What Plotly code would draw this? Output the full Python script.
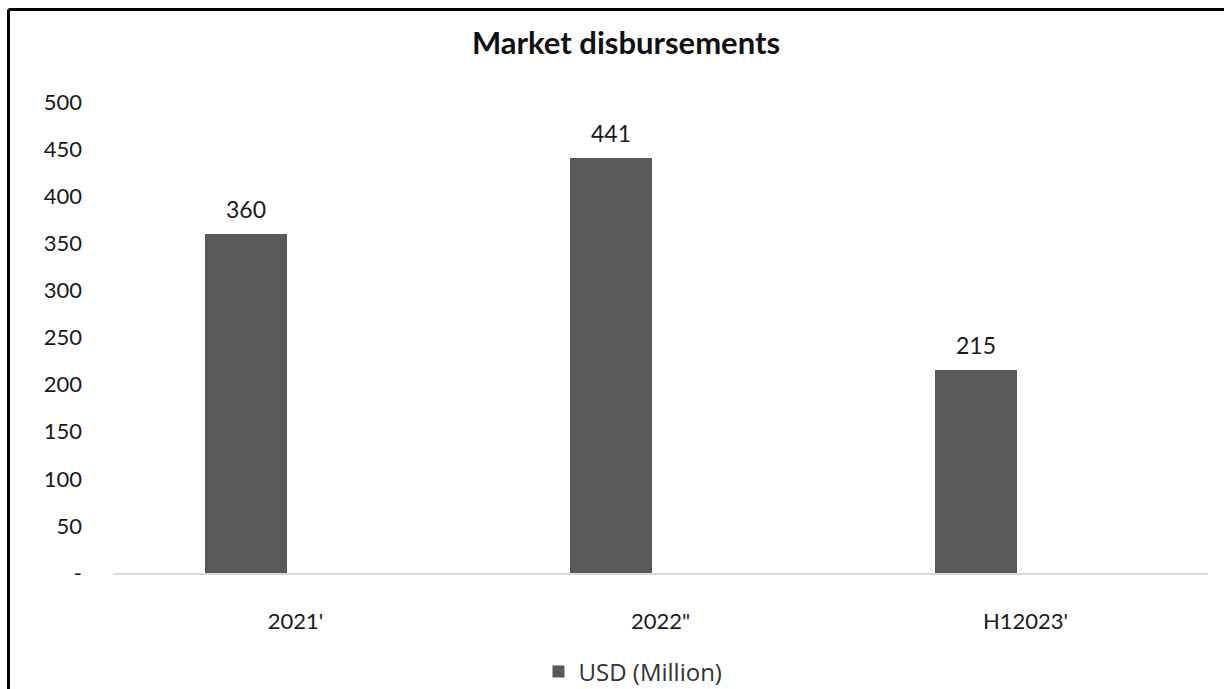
import plotly.graph_objects as go

categories = ["2021'", "2022\"", "H12023'"]
values = [360, 441, 215]
series_name = "USD (Million)"
y_tick_vals = [0, 50, 100, 150, 200, 250, 300, 350, 400, 450, 500]
y_tick_text = ["-", "50", "100", "150", "200", "250", "300", "350", "400", "450", "500"]
title_text = "Market disbursements"

W, H = 1224, 689
ML, MR, MT, MB = 113, 16, 102, 116
plot_w = W - ML - MR
plot_h = H - MT - MB

bar_width = 0.225
bar_offset = -0.248
bar_color = "#595959"

fig = go.Figure()
fig.add_trace(go.Bar(
    x=categories, y=values, name=series_name,
    marker=dict(color=bar_color, line=dict(width=0)),
    width=bar_width, offset=bar_offset,
    showlegend=True,
))

# data labels above each bar (centered on the offset bar)
center_shift = bar_offset + bar_width / 2
for i, v in enumerate(values):
    fig.add_annotation(
        x=i + center_shift, y=v, xref="x", yref="y",
        text=str(v), showarrow=False, yanchor="bottom", yshift=9,
        font=dict(family="Lato", size=23, color="#1a1a1a"),
    )

# outer frame (left and top edges visible)
fx = (8.5 - ML) / plot_w
fy = (H - MB - 9.5) / plot_h
fig.add_shape(type="line", xref="paper", yref="paper", x0=fx, x1=fx, y0=fy, y1=-(MB + 5) / plot_h,
              line=dict(color="black", width=3))
fig.add_shape(type="line", xref="paper", yref="paper", x0=fx, x1=(W - ML + 5) / plot_w, y0=fy, y1=fy,
              line=dict(color="black", width=3))

fig.update_layout(
    width=W, height=H,
    margin=dict(l=ML, r=MR, t=MT, b=MB, autoexpand=False),
    paper_bgcolor="white", plot_bgcolor="white",
    title=dict(text="<b>" + title_text + "</b>", x=626 / W, xref="container", xanchor="center",
               y=1 - 43 / H, yref="container", yanchor="middle",
               font=dict(family="Lato", size=31, color="#111111")),
    xaxis=dict(type="category", range=[-0.5, 2.5], showline=True, linecolor="#d9d9d9", linewidth=2,
               showgrid=False, zeroline=False, ticks="", ticklabelstandoff=28,
               tickfont=dict(family="Lato", size=22, color="#1a1a1a")),
    yaxis=dict(range=[0, 500], showgrid=False, zeroline=False, showline=False,
               tickvals=y_tick_vals, ticktext=y_tick_text, ticks="", ticklabelstandoff=30,
               tickfont=dict(family="Lato", size=22, color="#1a1a1a")),
    legend=dict(orientation="h", x=(633 - ML) / plot_w, xanchor="center",
                y=(H - MB - 672) / plot_h, yanchor="middle",
                font=dict(family="Open Sans", size=24, color="#333333")),
    bargap=0,
)

fig.write_html("out.html")
